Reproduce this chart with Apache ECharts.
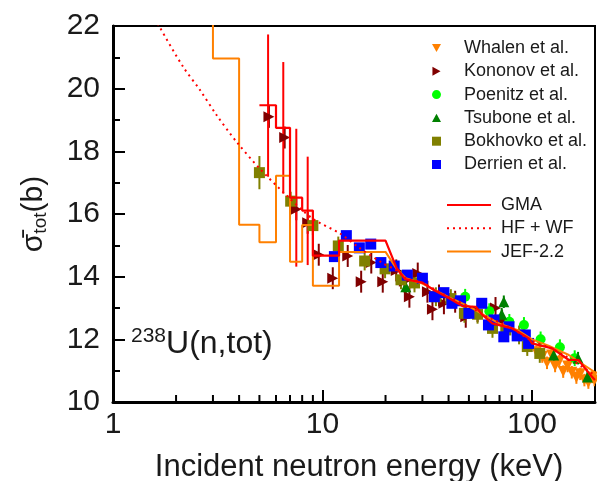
<!DOCTYPE html>
<html><head><meta charset="utf-8">
<script src="https://cdn.jsdelivr.net/npm/echarts/dist/echarts.min.js"></script>
<style>html,body{margin:0;padding:0;background:#fff}#c{width:597px;height:481px}</style>
</head><body><div id="c"></div>
<script>
// ---- data (energy keV, sigma_tot b, error b) ----
const whalen = [[105,11.6],[112,11.45],[118,11.25],[124,11.5],[129,11.15],[135,11.3],[141,10.97],[148,11.15],[155,10.95],[163,10.78],[170,10.9],[178,10.7],[186,10.62],[194,10.8],[199,10.7]];
const whalenErr = 0.2;
const kononov = [[5.55,19.1],[6.6,18.44],[7.5,16.15],[8.5,15.72],[9.6,14.7],[11.2,13.95],[13.2,14.66],[15.3,13.84],[17.1,14.45],[19.4,13.84],[22.5,14.2],[24.6,13.85],[26,13.36],[28.5,14.1],[31.7,13.52],[33.5,12.96],[36,13.4],[38,13.15],[43,13.2],[48.3,12.72],[55,12.9],[67,13.0],[72,12.6],[76,12.3]];
const kononovErr = 0.35;
const poenitz = [[48,13.36],[62.6,12.9],[78,12.56],[91.6,12.46],[110,12.0],[136,11.75],[160,11.4]];
const poenitzErr = 0.25;
const tsubone = [[25,13.68],[71.7,12.8],[73.4,13.2],[127,11.5],[166,11.4],[184,10.8]];
const tsuboneErr = 0.2;
const bokhovko = [[5.0,17.32],[7.05,16.41],[9.0,15.63],[11.9,14.98],[15.9,14.5],[19.9,14.25],[23.7,13.9],[27.5,13.8],[34.8,13.36],[41,13.3],[47.6,12.83],[55,12.8],[64.8,12.35],[75,12.3],[86.8,12.14],[95,11.77],[109,11.55]];
const bokhovkoErr = [0.53,0.3,0.3,0.3,0.3,0.3,0.3,0.3,0.3,0.3,0.3,0.3,0.3,0.3,0.3,0.3,0.3];
const derrien = [[11.4,14.64],[13.0,15.31],[15.0,14.92],[17.0,15.04],[19.0,14.45],[22.0,14.34],[25.4,14.05],[30,13.95],[34.2,13.36],[38,13.49],[41.5,13.15],[45.6,13.23],[50,12.83],[57.6,13.15],[62,12.46],[65.9,12.62],[73.4,12.08],[77.7,12.4],[85,12.11],[93,12.14],[96.4,11.87]];
const derrienErr = 0.1;

// GMA: group bins then continuous evaluation
const gmaEdges = [5,6,7,8,9,12,20];
const gmaBinVals = [19.47,18.75,16.52,16.11,14.67,15.15];
const gmaCont = [[22.6,14.27],[24.8,13.92],[30,13.81],[33.5,13.6],[40.3,13.31],[46.6,13.06],[53.9,13.04],[58,12.78],[64.7,12.51],[80.5,12.35],[96.8,12.03],[100,11.87],[125,11.71],[150,11.34],[167,11.34],[187,10.92],[200,10.7]];
const gmaErrE = [5.5,6.5,7.5,8.5];
const gmaErrV = [19.46,18.75,16.52,16.1];
const gmaErrU = [2.27,2.1,2.2,1.73];

const hfwf = [[1.5,22.6],[1.66,22.0],[2.16,20.7],[2.6,19.96],[3.12,19.16],[3.88,18.31],[5.0,17.46],[6.72,16.6],[8.98,15.85],[12.05,15.39],[15.0,14.92],[19.3,14.44],[22.6,14.2],[25,13.95],[30,13.8],[40,13.35],[50,13.05],[60,12.75],[80,12.35],[100,11.95],[125,11.7],[150,11.4],[200,10.85]];

const jefEdges = [2,3,4,5,6,7,8,9,12,20];
const jefBinVals = [24,20.96,15.66,15.1,17.22,14.48,15.65,13.71,14.79];
const jefCont = [[22.6,14.25],[25,13.95],[30,13.78],[35,13.55],[40,13.35],[50,13.05],[60,12.75],[70,12.5],[85,12.3],[100,12.0],[120,11.8],[150,11.5],[175,11.2],[200,10.95]];

const xMajorLabels = [1,10,100];
const xMinorTicks = [2,3,4,5,6,7,8,9,20,30,40,50,60,70,80,90];
const yMin = 10, yMax = 22, yStep = 2;

// ---- helpers ----
function binsToLine(edges, vals, cont){
  const out = [];
  for (let i=0;i<vals.length;i++){ out.push([edges[i],vals[i]]); out.push([edges[i+1],vals[i]]); }
  return out.concat(cont);
}
function errData(pts, err){
  return pts.map((p,i)=>[p[0], p[1]-(Array.isArray(err)?err[i]:err), p[1]+(Array.isArray(err)?err[i]:err)]);
}
function errSeries(pts, err, color, w){
  return {type:'custom', silent:true, z:2, clip:true, data: errData(pts, err), encode:{x:0,y:[1,2]},
    renderItem:(params, api)=>{
      const a = api.coord([api.value(0), api.value(1)]);
      const b = api.coord([api.value(0), api.value(2)]);
      return {type:'line', shape:{x1:a[0],y1:a[1],x2:b[0],y2:b[1]}, style:{stroke:color, lineWidth:w||2}};
    }};
}
const FONT = 'Liberation Sans, Arial, Helvetica, sans-serif';
const TXT = '#1a1a1a';

const scatterDefs = [
  {name:'Whalen et al.', data:whalen, symbol:'triangle', rot:180, color:'#FF8000', err:whalenErr, icon:'path://M0,0L10,0L5,9Z'},
  {name:'Kononov et al.', data:kononov, symbol:'triangle', rot:-90, color:'#800000', err:kononovErr, icon:'path://M0,0L9,5L0,10Z'},
  {name:'Poenitz et al.', data:poenitz, symbol:'circle', rot:0, color:'#00FF00', err:poenitzErr, icon:'circle'},
  {name:'Tsubone et al.', data:tsubone, symbol:'triangle', rot:0, color:'#008000', err:tsuboneErr, icon:'path://M5,0L10,9L0,9Z'},
  {name:'Bokhovko et al.', data:bokhovko, symbol:'rect', rot:0, color:'#808000', err:bokhovkoErr, icon:'rect'},
  {name:'Derrien et al.', data:derrien, symbol:'rect', rot:0, color:'#0000FF', err:derrienErr, icon:'rect'}
];

const series = [];
scatterDefs.forEach(d=>{
  series.push(errSeries(d.data, d.err, d.color, 2));
  series.push({name:d.name, type:'scatter', data:d.data, symbol:d.symbol, symbolRotate:d.rot,
    symbolSize: d.symbol==='circle'?10:11, itemStyle:{color:d.color, opacity:1}, z:3});
});
// GMA error bars
series.push(errSeries(gmaErrE.map((e,i)=>[e,gmaErrV[i]]), gmaErrU, '#FF0000', 2));
series.push({name:'JEF-2.2', type:'line', data:binsToLine(jefEdges,jefBinVals,jefCont), symbol:'none', z:4,
  lineStyle:{color:'#FF8000', width:2}, itemStyle:{color:'#FF8000'}});
series.push({name:'HF + WF', type:'line', data:hfwf, symbol:'none', smooth:0.3, z:4,
  lineStyle:{color:'#FF0000', width:2, type:[2,4]}, itemStyle:{color:'#FF0000'}});
series.push({name:'GMA', type:'line', data:binsToLine(gmaEdges,gmaBinVals,gmaCont), symbol:'none', z:5,
  lineStyle:{color:'#FF0000', width:2.2}, itemStyle:{color:'#FF0000'}});
// minor x ticks
series.push({type:'custom', silent:true, z:6, data:xMinorTicks.map(v=>[v,yMin]), encode:{x:0,y:1},
  renderItem:(params, api)=>{
    const p = api.coord([api.value(0), api.value(1)]);
    return {type:'line', shape:{x1:p[0],y1:p[1],x2:p[0],y2:p[1]-7}, style:{stroke:'#000', lineWidth:2}};
  }});

const chart = echarts.init(document.getElementById('c'));
chart.setOption({
  animation:false,
  backgroundColor:'#fff',
  textStyle:{fontFamily:FONT},
  grid:{left:113, right:2, top:26, bottom:79, show:true, borderColor:'#000', borderWidth:2,
    containLabel:false, outerBoundsMode:'none'},
  title:{text:'{sup|238}{m|U(n,tot)}', left:131, top:326, padding:0,
    textStyle:{fontWeight:'normal', rich:{sup:{fontSize:21, fontFamily:FONT, color:TXT, padding:[0,0,16,0]}, m:{fontSize:32, fontFamily:FONT, color:TXT}}}},
  legend:[
    {data:scatterDefs.map(d=>({name:d.name, icon:d.icon})), orient:'vertical', left:432, top:39, padding:0,
     itemWidth:9, itemHeight:9, itemGap:5.3,
     textStyle:{fontSize:18, fontFamily:FONT, color:TXT, padding:[0,0,0,18]}, selectedMode:false},
    {data:['GMA','HF + WF','JEF-2.2'], orient:'vertical', left:446, top:196, padding:0,
     itemWidth:44, itemHeight:14, itemGap:5.3, itemStyle:{opacity:0},
     textStyle:{fontSize:18, fontFamily:FONT, color:TXT, padding:[0,0,0,5]}, selectedMode:false}
  ],
  xAxis:{type:'log', logBase:10, min:1, max:200,
    name:'Incident neutron energy (keV)', nameLocation:'middle', nameGap:50,
    nameTextStyle:{fontSize:31, fontFamily:FONT, color:TXT, padding:[0,0,0,10]},
    axisLine:{show:true, lineStyle:{color:'#000', width:3}},
    axisTick:{show:true, inside:true, length:12, lineStyle:{color:'#000', width:2}},
    axisLabel:{fontSize:30, fontFamily:FONT, color:TXT, margin:8,
      formatter:v=> xMajorLabels.some(m=>Math.abs(m-v)<1e-6) ? String(v) : ''},
    splitLine:{show:false}, minorTick:{show:false}},
  yAxis:{type:'value', min:yMin, max:yMax, interval:yStep,
    name:'{s|σ̄}{sub|tot}{s|(b)}', nameLocation:'middle', nameGap:63,
    nameTextStyle:{rich:{s:{fontSize:30, fontFamily:FONT, color:TXT}, sub:{fontSize:19, fontFamily:FONT, color:TXT, padding:[14,0,0,0]}}},
    axisLine:{show:true, lineStyle:{color:'#000', width:3}},
    axisTick:{show:true, inside:true, length:12, lineStyle:{color:'#000', width:2}},
    minorTick:{show:true, splitNumber:2, length:7, lineStyle:{color:'#000', width:2}},
    axisLabel:{fontSize:30, fontFamily:FONT, color:TXT, margin:13},
    splitLine:{show:false}},
  series: series
});
</script></body></html>
